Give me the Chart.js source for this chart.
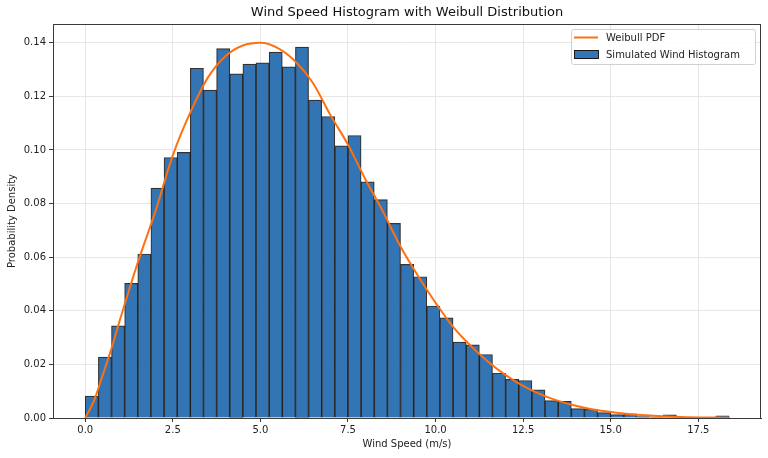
<!DOCTYPE html>
<html>
<head>
<meta charset="utf-8">
<script src="https://cdn.jsdelivr.net/npm/chart.js@4"></script>
<style>
  html, body { margin: 0; padding: 0; background: #fff; }
  #wrap { width: 768px; height: 458px; }
</style>
</head>
<body>
<div id="wrap"><canvas id="myChart"></canvas></div>
<script>
// histogram bins (m/s)
const binStart = 0;
const binWidth = 0.375;
const histDensity = [
  0.0082, 0.0227, 0.0344, 0.0502, 0.0612, 0.0858, 0.0972, 0.0991, 0.1305, 0.1223,
  0.1378, 0.1284, 0.1320, 0.1325, 0.1365, 0.1310, 0.1384, 0.1186, 0.1125, 0.1015,
  0.1054, 0.0881, 0.0815, 0.0726, 0.0573, 0.0527, 0.0418, 0.0374, 0.0283, 0.0273,
  0.0237, 0.0167, 0.0144, 0.0140, 0.0105, 0.0065, 0.0062, 0.0035, 0.0032, 0.0020,
  0.0013, 0.0016, 0.0005, 0.0004, 0.0012, 0.0003, 0.0002, 0.0001, 0.0008
];

// weibull curve
const pdfX = [0, 0.25, 0.5, 0.75, 1.0, 1.5, 2.0, 2.5, 3.0, 3.5, 4.0, 4.5, 5.0, 5.5, 6.0, 6.5,
  7.0, 7.5, 8.0, 8.5, 9.0, 9.5, 10.0, 10.5, 11.0, 11.5, 12.0, 12.5, 13.0, 13.5, 14.0,
  14.5, 15.0, 15.5, 16.0, 17.0, 18.0, 18.4];
const pdfY = [0, 0.0065, 0.016, 0.026, 0.037, 0.058, 0.077, 0.098, 0.114, 0.127, 0.135, 0.139,
  0.140, 0.138, 0.133, 0.125, 0.113, 0.102, 0.089, 0.077, 0.064, 0.053, 0.043, 0.034,
  0.027, 0.021, 0.016, 0.012, 0.0088, 0.0064, 0.0046, 0.0032, 0.0022, 0.0015, 0.0010,
  0.0004, 0.00015, 0.0001];

const xTicks = [0, 2.5, 5, 7.5, 10, 12.5, 15, 17.5];

const histPoints = [];
for (let i = 0; i < histDensity.length; i++) {
  histPoints.push({ x: binStart + binWidth * (i + 0.5), y: histDensity[i] });
}
const pdfPoints = [];
for (let i = 0; i < pdfX.length; i++) {
  pdfPoints.push({ x: pdfX[i], y: pdfY[i] });
}

const FONT = "'DejaVu Sans', sans-serif";
const ORANGE = '#ff7010';
const BLUE = '#3274b4';

// title, frame and legend drawn by hand
const extras = {
  id: 'extras',
  afterDraw(chart) {
    const ctx = chart.ctx;
    const a = chart.chartArea;
    ctx.save();
    ctx.strokeStyle = '#3a3a3a';
    ctx.lineWidth = 1;
    ctx.strokeRect(a.left + 0.5, a.top + 0.5, a.right - a.left - 1, a.bottom - a.top);

    ctx.fillStyle = '#111';
    ctx.font = '13px ' + FONT;
    ctx.textAlign = 'center';
    ctx.textBaseline = 'middle';
    ctx.fillText('Wind Speed Histogram with Weibull Distribution', (a.left + a.right) / 2, 13);

    // legend
    const bx = 571, by = 29, bw = 184, bh = 35;
    ctx.fillStyle = 'rgba(255,255,255,0.85)';
    ctx.strokeStyle = '#d0d0d0';
    ctx.beginPath();
    ctx.roundRect(bx + 0.5, by + 0.5, bw, bh, 2);
    ctx.fill();
    ctx.stroke();

    ctx.strokeStyle = ORANGE;
    ctx.lineWidth = 2;
    ctx.beginPath();
    ctx.moveTo(574, 37.5);
    ctx.lineTo(598, 37.5);
    ctx.stroke();

    ctx.fillStyle = BLUE;
    ctx.fillRect(574, 50, 24, 9);
    ctx.strokeStyle = '#1a1a1a';
    ctx.lineWidth = 1;
    ctx.strokeRect(574.5, 50.5, 24, 8);

    ctx.fillStyle = '#222';
    ctx.font = '10px ' + FONT;
    ctx.textAlign = 'left';
    ctx.fillText('Weibull PDF', 606, 38);
    ctx.fillText('Simulated Wind Histogram', 606, 55);
    ctx.restore();
  }
};

const ctx = document.getElementById('myChart');
new Chart(ctx, {
  type: 'bar',
  data: {
    datasets: [
      {
        type: 'line',
        label: 'Weibull PDF',
        data: pdfPoints,
        borderColor: ORANGE,
        borderWidth: 2,
        pointRadius: 0,
        tension: 0.4,
        cubicInterpolationMode: 'monotone',
        fill: false,
        order: 0
      },
      {
        type: 'bar',
        label: 'Simulated Wind Histogram',
        data: histPoints,
        backgroundColor: BLUE,
        borderColor: 'rgba(0,0,0,0.8)',
        borderWidth: 1.2,
        borderSkipped: 'start',
        barPercentage: 1,
        categoryPercentage: 1,
        grouped: false,
        order: 1
      }
    ]
  },
  options: {
    responsive: true,
    maintainAspectRatio: false,
    animation: false,
    layout: { padding: { left: 0, top: 24, right: 7, bottom: 0 } },
    plugins: {
      legend: { display: false },
      tooltip: { enabled: false },
      title: { display: false }
    },
    scales: {
      x: {
        type: 'linear',
        min: -0.92,
        max: 19.29,
        offset: false,
        afterBuildTicks(scale) {
          scale.ticks = xTicks.map(v => ({ value: v }));
        },
        afterFit(scale) { scale.height = 40; },
        ticks: {
          font: { family: FONT, size: 10 },
          color: '#222',
          padding: 2,
          maxRotation: 0,
          callback: v => Number(v).toFixed(1)
        },
        grid: {
          offset: false,
          color: '#e6e6e6',
          tickColor: '#3a3a3a',
          tickLength: 4
        },
        border: { color: '#3a3a3a' },
        title: {
          display: true,
          text: 'Wind Speed (m/s)',
          font: { family: FONT, size: 10 },
          color: '#222',
          padding: { top: 0, bottom: 8 }
        }
      },
      y: {
        min: 0,
        max: 0.147,
        afterBuildTicks(scale) {
          const t = [];
          for (let v = 0; v <= 0.1401; v += 0.02) t.push({ value: v });
          scale.ticks = t;
        },
        afterFit(scale) { scale.width = 53; },
        ticks: {
          font: { family: FONT, size: 10 },
          color: '#222',
          padding: 3,
          callback: v => Number(v).toFixed(2)
        },
        grid: {
          color: '#e6e6e6',
          tickColor: '#3a3a3a',
          tickLength: 4
        },
        border: { color: '#3a3a3a' },
        title: {
          display: true,
          text: 'Probability Density',
          font: { family: FONT, size: 10 },
          color: '#222',
          padding: { top: 6, bottom: 0 }
        }
      }
    }
  },
  plugins: [extras]
});
</script>
</body>
</html>
